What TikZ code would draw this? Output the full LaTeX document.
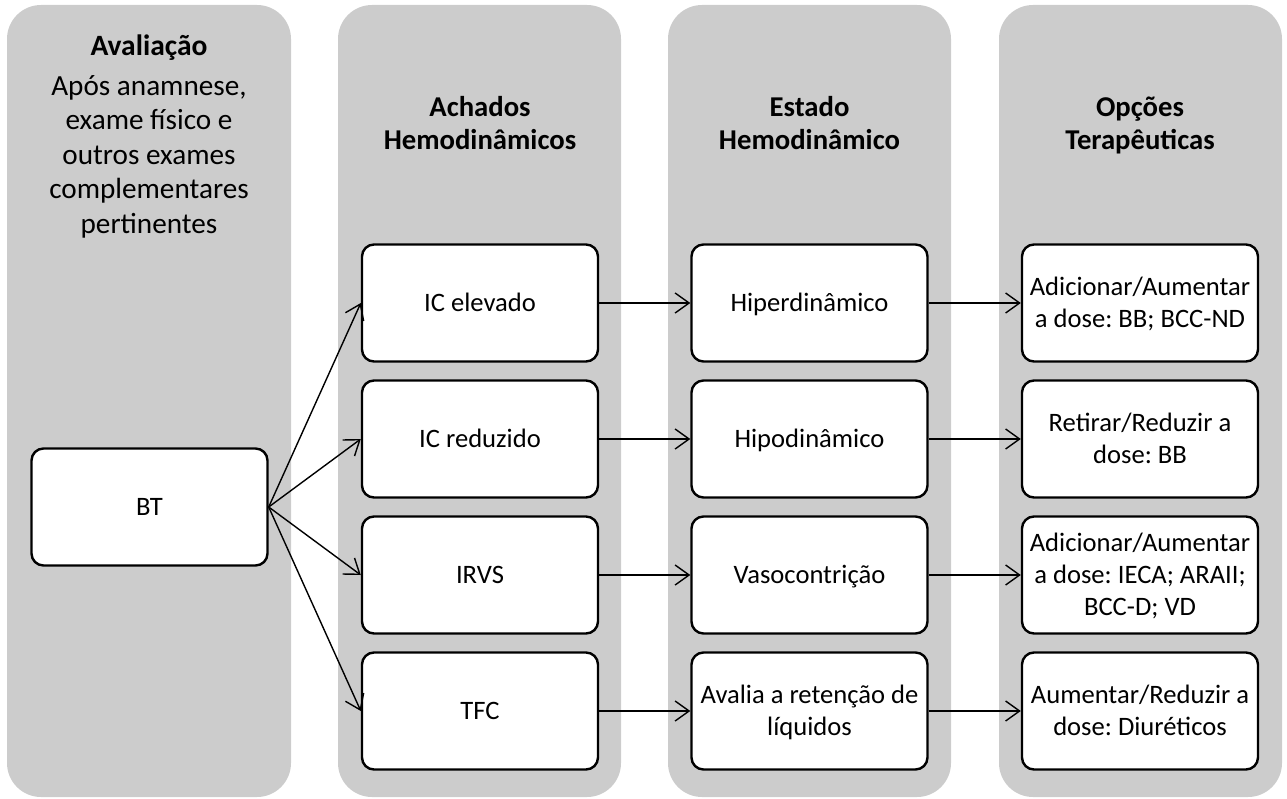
\documentclass[tikz,border=0pt]{standalone}
\usepackage{fontspec}
\setmainfont{Carlito}
\usetikzlibrary{arrows.meta}
\newcommand\bxs{\rule[-7.5pt]{0pt}{32pt}}
\newcommand\hds{\rule[-9pt]{0pt}{33pt}}
\newcommand\bds{\rule[-10pt]{0pt}{34.5pt}}
\begin{document}
\begin{tikzpicture}[x=1pt,y=-1pt,
  panel/.style={fill=black!20, rounded corners=34pt},
  box/.style={draw=black, line width=2.4pt, fill=white, rounded corners=12pt,
    minimum width=236pt, minimum height=117pt, align=center,
    inner sep=0pt, font=\fontsize{26.6}{32}\selectfont\frenchspacing},
  hdr/.style={align=center, inner sep=0pt, font=\bfseries\fontsize{28.7}{33}\selectfont},
  body/.style={align=center, inner sep=0pt, font=\fontsize{29.2}{34.5}\selectfont},
  arr/.style={line width=1.4pt, -{Straight Barb[length=14pt,width=20pt,line width=1.4pt]}}
]
\useasboundingbox (0,0) rectangle (1287,799);
% panels
\fill[panel] (7,5) rectangle (291,797);
\fill[panel] (338,5) rectangle (621,797);
\fill[panel] (668,5) rectangle (951,797);
\fill[panel] (999,5) rectangle (1282,797);
% headers
\node[hdr, font=\bfseries\fontsize{29.5}{33}\selectfont] (t1) at (149,48) {Avaliação};
\node[body] (b1) at (149,157.2) {\bds Após anamnese,\\\bds exame físico e\\\bds outros exames\\\bds complementares\\\bds pertinentes};
\node[hdr] (t2) at (480,126) {\hds Achados\\\hds Hemodinâmicos};
\node[hdr] (t3) at (809.5,126) {\hds Estado\\\hds Hemodinâmico};
\node[hdr] (t4) at (1140,126) {\hds Opções\\\hds Terapêuticas};
% boxes
\node[box] (bt) at (149.5,507) {\bxs BT};
\node[box] (a1) at (480,303) {\bxs IC elevado};
\node[box] (a2) at (480,439) {\bxs IC reduzido};
\node[box] (a3) at (480,575) {\bxs IRVS};
\node[box] (a4) at (480,711) {\bxs TFC};
\node[box] (e1) at (809.5,303) {\bxs Hiperdinâmico};
\node[box] (e2) at (809.5,439) {\bxs Hipodinâmico};
\node[box] (e3) at (809.5,575) {\bxs Vasocontrição};
\node[box] (e4) at (809.5,711) {\bxs Avalia a retenção de\\\bxs líquidos};
\node[box] (o1) at (1140,303) {\bxs Adicionar/Aumentar\\\bxs a dose: BB; BCC-ND};
\node[box] (o2) at (1140,439) {\bxs Retirar/Reduzir a\\\bxs dose: BB};
\node[box] (o3) at (1140,575) {\bxs Adicionar/Aumentar\\\bxs a dose: IECA; ARAII;\\\bxs BCC-D; VD};
\node[box] (o4) at (1140,711) {\bxs Aumentar/Reduzir a\\\bxs dose: Diuréticos};
% arrows
\foreach \n in {a1,a2,a3,a4} \draw[arr] (bt.east) -- (\n.west);
\foreach \i in {1,2,3,4} {
  \draw[arr] (a\i.east) -- (e\i.west);
  \draw[arr] (e\i.east) -- (o\i.west);
}
\end{tikzpicture}
\end{document}
